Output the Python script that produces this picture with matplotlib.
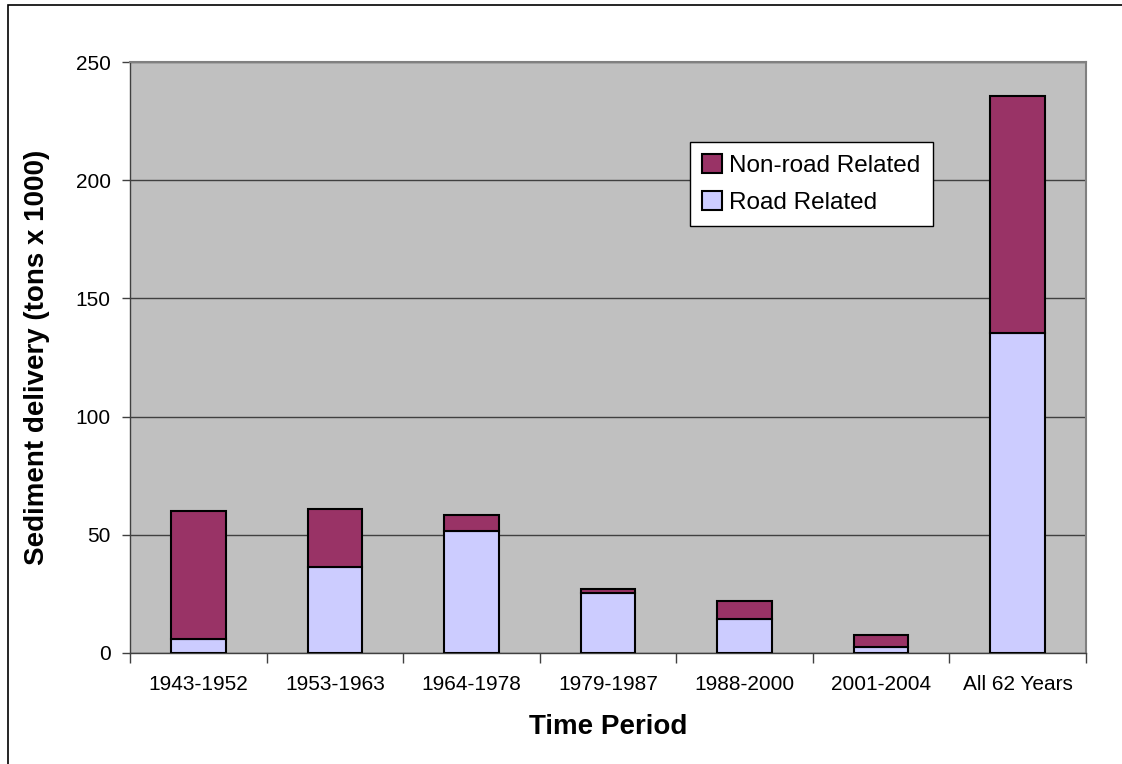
import numpy as np
import matplotlib
matplotlib.use('Agg')
import matplotlib.pyplot as plt
from matplotlib.patches import Rectangle

plt.rcParams['font.family'] = ['Liberation Sans', 'DejaVu Sans']

# sediment delivery per period, tons x 1000
periods = ['1943-1952', '1953-1963', '1964-1978', '1979-1987',
           '1988-2000', '2001-2004', 'All 62 Years']
road = [6.0, 36.4, 51.5, 25.2, 14.5, 2.7, 135.2]
non_road = [54.0, 24.6, 6.9, 1.7, 7.6, 4.9, 100.4]
yticks = [0, 50, 100, 150, 200, 250]

W, H = 1122, 764
fig = plt.figure(figsize=(W / 100, H / 100), dpi=100)
# outer chart frame
fig.patches.append(Rectangle((8 / W, -0.1), 1.2, 1 - 5 / H + 0.1,
                             transform=fig.transFigure, fill=False,
                             edgecolor='black', linewidth=1.2))

ax = fig.add_axes([130 / W, 1 - 653 / H, 956 / W, 591 / H])
ax.set_facecolor('#C0C0C0')

x = np.arange(len(periods))
ax.bar(x, road, width=0.4, color='#CCCCFF', edgecolor='black',
       linewidth=1.5, label='Road Related', zorder=3)
ax.bar(x, non_road, width=0.4, bottom=road, color='#993366',
       edgecolor='black', linewidth=1.5, label='Non-road Related', zorder=3)

ax.set_xlim(-0.5, len(periods) - 0.5)
ax.set_ylim(0, 250)
ax.set_yticks(yticks)
ax.yaxis.grid(True, color='#404040', linewidth=1, zorder=1)
ax.set_axisbelow(True)

# category labels centred, ticks on the boundaries
ax.set_xticks(x)
ax.set_xticklabels(periods, fontsize=15)
ax.set_xticks(np.arange(len(periods) + 1) - 0.5, minor=True)
ax.tick_params(axis='x', which='major', length=0, pad=16)
ax.tick_params(axis='x', which='minor', length=7, width=1, color='#404040')
ax.tick_params(axis='y', length=6, width=1, labelsize=15, pad=8,
               color='#404040')

for side in ['top', 'right']:
    ax.spines[side].set_color('#808080')
    ax.spines[side].set_linewidth(1.5)
for side in ['left', 'bottom']:
    ax.spines[side].set_color('#404040')
    ax.spines[side].set_linewidth(1)

ax.set_xlabel('Time Period', fontsize=20, fontweight='bold', labelpad=14)
ax.set_ylabel('Sediment delivery (tons x 1000)', fontsize=20,
              fontweight='bold', labelpad=18)

handles, labels = ax.get_legend_handles_labels()
leg = ax.legend(handles[::-1], labels[::-1], loc='upper left',
                bbox_to_anchor=(0.586, 0.865), fontsize=17.5, frameon=True,
                fancybox=False, edgecolor='black', framealpha=1,
                handlelength=0.8, handleheight=0.8, handletextpad=0.3,
                borderpad=0.5, labelspacing=0.6, borderaxespad=0)
leg.get_frame().set_linewidth(1)

fig.savefig('out.png', dpi=100)
